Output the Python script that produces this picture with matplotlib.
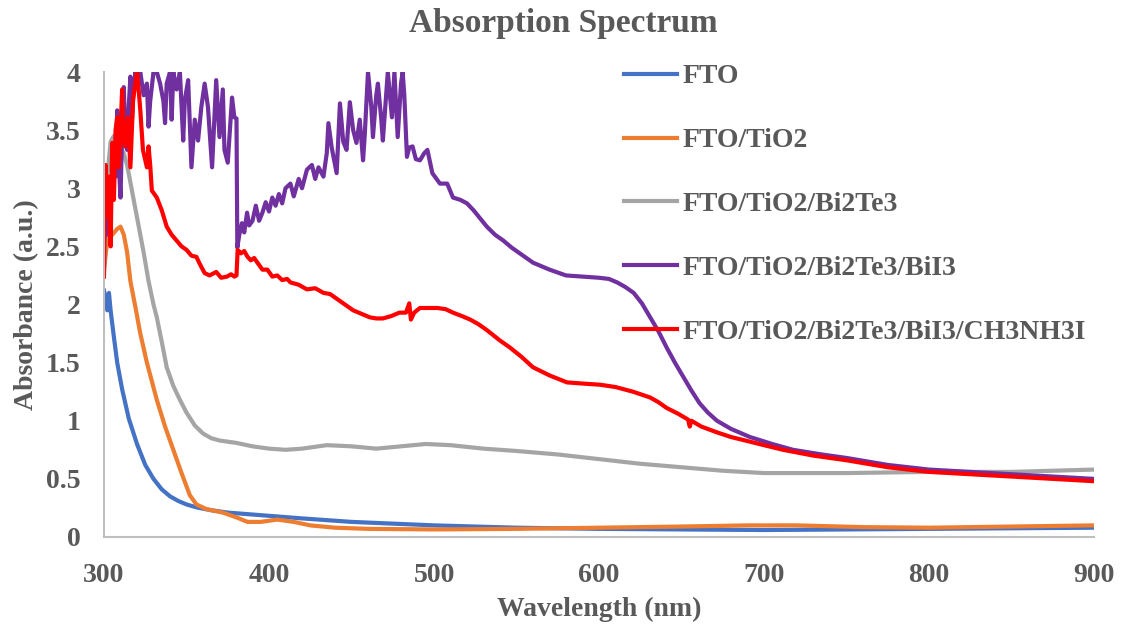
import matplotlib
matplotlib.use("Agg")
import matplotlib.pyplot as plt

# FTO
wl_fto = [300, 301, 302, 303, 304, 306, 308, 311, 315, 320, 325, 330, 335, 340, 345, 350, 356, 365,
          375, 393, 420, 450, 500, 550, 600, 650, 700, 750, 800, 850, 900]
abs_fto = [2.12, 2.05, 1.95, 2.1, 1.95, 1.72, 1.5, 1.27, 1.02, 0.8, 0.62, 0.5, 0.41, 0.35, 0.31, 0.28, 0.255, 0.23,
           0.21, 0.19, 0.16, 0.13, 0.10, 0.08, 0.07, 0.065, 0.06, 0.065, 0.07, 0.075, 0.08]

# FTO/TiO2
wl_tio2 = [300, 302, 305, 308, 310, 312, 314, 316, 319, 322, 326, 332, 337, 342, 347, 352, 356, 362, 372, 380,
           387, 395, 405, 415, 425, 440, 460, 500, 550, 600, 650, 690, 720, 760, 800, 850, 900]
abs_tio2 = [2.3, 2.55, 2.6, 2.65, 2.67, 2.6, 2.45, 2.2, 1.98, 1.75, 1.5, 1.18, 0.95, 0.75, 0.55, 0.36, 0.28, 0.24, 0.21, 0.17,
            0.13, 0.13, 0.15, 0.13, 0.1, 0.08, 0.07, 0.065, 0.07, 0.08, 0.09, 0.1, 0.1, 0.085, 0.08, 0.09, 0.1]

# FTO/TiO2/Bi2Te3
wl_bite = [300, 302, 304, 306, 308, 310, 312, 314, 316, 318, 320, 322, 324, 327, 330, 332, 335, 338, 342, 346,
           350, 355, 360, 365, 370, 380, 390, 400, 410, 420, 435, 450, 465, 480, 495, 510, 530, 550, 575, 600,
           625, 650, 675, 700, 725, 750, 800, 850, 900]
abs_bite = [2.3, 3.1, 3.4, 3.45, 3.45, 3.35, 3.3, 3.2, 3.05, 2.9, 2.75, 2.6, 2.45, 2.2, 2.0, 1.89, 1.68, 1.46, 1.3, 1.18,
            1.07, 0.96, 0.89, 0.85, 0.83, 0.81, 0.78, 0.76, 0.75, 0.76, 0.79, 0.78, 0.76, 0.78, 0.8, 0.79, 0.76, 0.74, 0.71, 0.67,
            0.63, 0.6, 0.57, 0.55, 0.55, 0.55, 0.56, 0.56, 0.58]

# FTO/TiO2/Bi2Te3/BiI3
wl_bii3 = [300, 301, 302, 303, 304, 305, 306, 307, 308, 309, 310, 311, 312, 313, 314, 315, 316, 317, 318, 319,
           320, 322, 324, 326, 327, 328, 330, 332, 334, 336, 337, 338, 340, 341, 342, 344, 346, 348, 349, 351,
           353, 355, 357, 359, 361, 363, 365.5, 368, 370, 372, 373, 375, 377.6, 379, 380.3, 380.8, 382, 383.6, 385, 386.7,
           388, 390, 392, 394, 396, 398, 400, 402, 404, 406, 408, 410, 413, 415, 418, 420, 423, 426, 428, 430,
           433, 435, 436, 438, 441, 443, 445, 447, 449, 451, 453, 455, 457, 458, 460, 462, 463, 465, 466, 468,
           469, 471, 472, 474.5, 476, 478, 480, 481, 482, 483.6, 485, 487, 489, 491.5, 494, 496, 499, 503.6, 508, 511.5,
           516, 520, 524, 528, 532, 537, 542, 547, 552, 560, 570, 580, 590, 600, 606, 611, 616, 621, 626, 631,
           636, 641, 646, 651, 656, 661, 666, 671.5, 680, 691.5, 705, 717.6, 735, 750, 775, 800, 825, 850, 875, 900]
abs_bii3 = [2.55, 2.75, 2.6, 2.95, 3.1, 2.9, 3.35, 3.1, 3.67, 3.2, 2.92, 3.5, 3.87, 3.4, 3.33, 3.7, 3.96, 3.6, 3.85, 4.0,
            3.95, 4.0, 3.8, 3.9, 3.53, 3.75, 4.0, 4.0, 3.9, 3.75, 3.56, 3.9, 4.0, 3.59, 4.0, 3.85, 4.0, 3.41, 3.76, 3.93,
            3.18, 3.59, 3.41, 3.7, 3.9, 3.7, 3.18, 3.93, 3.44, 3.85, 3.33, 3.22, 3.78, 3.61, 3.6, 2.49, 2.6, 2.70, 2.62, 2.79,
            2.68, 2.72, 2.85, 2.72, 2.79, 2.88, 2.8, 2.92, 2.85, 2.95, 2.87, 3.0, 3.04, 2.93, 3.08, 3.0, 3.16, 3.2, 3.08, 3.18,
            3.10, 3.3, 3.56, 3.35, 3.13, 3.73, 3.4, 3.33, 3.74, 3.5, 3.39, 3.59, 3.24, 3.45, 4.0, 3.7, 3.44, 3.8, 3.9, 3.6,
            3.41, 3.8, 4.0, 3.61, 4.0, 3.44, 3.9, 4.0, 3.8, 3.27, 3.35, 3.36, 3.25, 3.24, 3.3, 3.33, 3.13, 3.04, 3.04, 2.92,
            2.9, 2.87, 2.81, 2.74, 2.67, 2.6, 2.55, 2.49, 2.44, 2.36, 2.3, 2.25, 2.24, 2.23, 2.22, 2.19, 2.15, 2.10, 2.01, 1.89,
            1.77, 1.63, 1.5, 1.38, 1.26, 1.15, 1.07, 1.0, 0.93, 0.86, 0.8, 0.75, 0.71, 0.68, 0.62, 0.58, 0.56, 0.54, 0.52, 0.5]

# FTO/TiO2/Bi2Te3/BiI3/CH3NH3I
wl_mai = [300, 301, 302, 303, 304, 305, 306, 307, 308, 309, 310, 311, 312, 312.7, 314.5, 316, 317.6, 319, 320, 321,
          322, 323.6, 326, 327, 328, 329, 332, 335, 338, 341, 344, 347, 350, 353, 356, 358, 361, 364, 368, 371,
          374.5, 377, 379, 380.3, 381, 383, 385, 387, 389, 391, 393, 396, 399, 402, 405, 408, 411, 413, 418, 423,
          428, 433, 437, 441, 446, 451, 456, 461, 465, 469, 474, 479, 483, 485, 486, 488, 491.5, 497, 502, 507,
          511.5, 517, 522, 527, 532, 540, 546, 553, 560, 570, 580.6, 590, 600.6, 610, 620.6, 631, 636, 641, 648, 654,
          655, 656, 662, 671.5, 680, 691.5, 700, 711.5, 730, 750, 775, 800, 825, 850, 875, 900]
abs_mai = [2.24, 3.2, 2.76, 3.1, 2.5, 3.39, 2.9, 3.5, 3.61, 3.18, 3.5, 3.85, 3.4, 3.36, 3.61, 3.18, 3.76, 3.9, 4.0, 3.85,
           3.67, 3.33, 3.18, 3.36, 3.2, 2.98, 2.92, 2.81, 2.67, 2.6, 2.55, 2.5, 2.47, 2.42, 2.41, 2.35, 2.27, 2.25, 2.28, 2.23,
           2.24, 2.26, 2.24, 2.25, 2.47, 2.44, 2.46, 2.41, 2.38, 2.40, 2.36, 2.30, 2.3, 2.24, 2.25, 2.21, 2.22, 2.19, 2.17, 2.13,
           2.14, 2.10, 2.09, 2.05, 2.0, 1.95, 1.92, 1.89, 1.88, 1.88, 1.90, 1.93, 1.93, 2.01, 1.87, 1.93, 1.97, 1.97, 1.97, 1.96,
           1.93, 1.9, 1.87, 1.83, 1.78, 1.69, 1.63, 1.55, 1.46, 1.39, 1.33, 1.32, 1.31, 1.29, 1.25, 1.20, 1.16, 1.11, 1.06, 1.01,
           0.95, 1.0, 0.95, 0.90, 0.86, 0.82, 0.79, 0.75, 0.70, 0.66, 0.6, 0.56, 0.54, 0.52, 0.5, 0.48]

labels = ["FTO", "FTO/TiO2", "FTO/TiO2/Bi2Te3", "FTO/TiO2/Bi2Te3/BiI3", "FTO/TiO2/Bi2Te3/BiI3/CH3NH3I"]
colors = ["#4472C4", "#ED7D31", "#A5A5A5", "#7030A0", "#FF0000"]

plt.rcParams['font.family'] = ['Liberation Serif', 'DejaVu Serif']
plt.rcParams['font.weight'] = 'bold'
txt = "#595959"

fig = plt.figure(figsize=(11.27, 6.29), dpi=100)
ax = fig.add_axes([104/1127, 1-537/629, (1094-104)/1127, (537-72)/629])

series = [(wl_fto, abs_fto), (wl_tio2, abs_tio2), (wl_bite, abs_bite), (wl_bii3, abs_bii3), (wl_mai, abs_mai)]
for (x, y), lab, c in zip(series, labels, colors):
    ax.plot(x, y, color=c, lw=3.0, label=lab, solid_joinstyle='round')

ax.set_xlim(300, 900)
ax.set_ylim(0, 4)
ax.set_xticks([300, 400, 500, 600, 700, 800, 900])
ax.set_yticks([0, 0.5, 1, 1.5, 2, 2.5, 3, 3.5, 4])
ax.set_yticklabels(["0", "0.5", "1", "1.5", "2", "2.5", "3", "3.5", "4"])
ax.tick_params(axis='both', length=0, labelsize=20, colors=txt)
ax.tick_params(axis='x', pad=19)
ax.tick_params(axis='y', pad=17)
for s in ['top', 'right']:
    ax.spines[s].set_visible(False)
for s in ['left', 'bottom']:
    ax.spines[s].set_color('#BFBFBF')
    ax.spines[s].set_linewidth(1.5)

ax.set_xlabel("Wavelength (nm)", fontsize=20, color=txt, fontweight='bold', labelpad=6)
ax.set_ylabel("Absorbance (a.u.)", fontsize=20, color=txt, fontweight='bold', labelpad=5)
fig.suptitle("Absorption Spectrum", fontsize=24, color=txt, fontweight='bold', y=0.988)

leg = ax.legend(loc='upper left', bbox_to_anchor=(624/1127, 1-64/629), bbox_transform=fig.transFigure,
                frameon=False, fontsize=20, handlelength=1.9, handletextpad=0.2, labelspacing=1.38,
                borderpad=0, borderaxespad=0)
for t in leg.get_texts():
    t.set_color(txt)
    t.set_fontweight('bold')

fig.savefig("out.png", dpi=100)
